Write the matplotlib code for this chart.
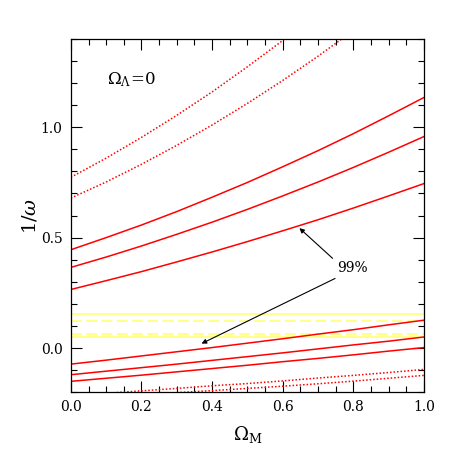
import matplotlib
matplotlib.use("Agg")
import matplotlib.pyplot as plt
from matplotlib.ticker import MultipleLocator

# ---- data ----
x_full = [0.0, 0.1, 0.2, 0.3, 0.4, 0.5, 0.6, 0.7, 0.8, 0.9, 1.0]

solid_1 = [0.445, 0.500, 0.557, 0.618, 0.683, 0.750, 0.821, 0.894, 0.971, 1.052, 1.135]
solid_2 = [0.365, 0.412, 0.462, 0.515, 0.570, 0.628, 0.689, 0.752, 0.818, 0.887, 0.958]
solid_3 = [0.265, 0.305, 0.346, 0.390, 0.435, 0.482, 0.531, 0.581, 0.634, 0.689, 0.745]
solid_4 = [-0.073, -0.055, -0.036, -0.017, 0.002, 0.022, 0.042, 0.063, 0.083, 0.105, 0.126]
solid_5 = [-0.121, -0.105, -0.089, -0.073, -0.056, -0.039, -0.022, -0.004, 0.014, 0.031, 0.050]
solid_6 = [-0.151, -0.137, -0.123, -0.108, -0.093, -0.078, -0.062, -0.047, -0.031, -0.014, 0.002]

x_dotA = [0.0, 0.1, 0.2, 0.3, 0.4, 0.5, 0.6, 0.7]
dot_A = [0.773, 0.860, 0.954, 1.054, 1.160, 1.274, 1.393, 1.519]
x_dotB = [0.0, 0.1, 0.2, 0.3, 0.4, 0.5, 0.6, 0.7, 0.8]
dot_B = [0.679, 0.752, 0.832, 0.918, 1.010, 1.108, 1.212, 1.322, 1.438]
x_dotC = [0.1, 0.2, 0.3, 0.4, 0.5, 0.6, 0.7, 0.8, 0.9, 1.0]
dot_C = [-0.205, -0.194, -0.183, -0.171, -0.161, -0.149, -0.136, -0.124, -0.111, -0.097]
x_dotD = [0.3, 0.4, 0.5, 0.6, 0.7, 0.8, 0.9, 1.0]
dot_D = [-0.202, -0.193, -0.183, -0.173, -0.162, -0.150, -0.137, -0.124]

yellow_solid = [0.152, 0.050]
yellow_dashed = [0.121, 0.065]

label_text = "99%"
label_pos = (0.796, 0.362)
arrow_up = ((0.741, 0.406), (0.647, 0.543))
arrow_down = ((0.748, 0.315), (0.370, 0.020))

# ---- figure ----
plt.rcParams['font.family'] = ['DejaVu Serif']
plt.rcParams['mathtext.fontset'] = 'dejavuserif'
fig = plt.figure(figsize=(4.63, 4.63), dpi=100)
ax = fig.add_axes([0.153, 0.153, 0.763, 0.763])

RED = '#ff0000'
YEL = '#ffff66'

for yv in yellow_solid:
    ax.axhline(yv, color=YEL, lw=1.1)
for yv in yellow_dashed:
    ax.axhline(yv, color=YEL, lw=1.1, dashes=(7, 3))

for ys in [solid_1, solid_2, solid_3, solid_4, solid_5, solid_6]:
    ax.plot(x_full, ys, color=RED, lw=1.1)

for xs, ys in [(x_dotA, dot_A), (x_dotB, dot_B), (x_dotC, dot_C), (x_dotD, dot_D)]:
    ax.plot(xs, ys, color=RED, lw=1.1, dashes=(1, 1.3))

ax.text(*label_pos, label_text, ha='center', va='center', fontsize=10)
for (tail, head) in [arrow_up, arrow_down]:
    ax.annotate('', xy=head, xytext=tail,
                arrowprops=dict(arrowstyle='-|>', color='black', lw=0.8,
                                mutation_scale=7, shrinkA=0, shrinkB=0))

ax.text(0.102, 1.217, r'$\Omega_\Lambda\!=\!0$', ha='left', va='center', fontsize=12)

ax.set_xlim(0, 1)
ax.set_ylim(-0.2, 1.4)
ax.xaxis.set_major_locator(MultipleLocator(0.2))
ax.xaxis.set_minor_locator(MultipleLocator(0.05))
ax.yaxis.set_major_locator(MultipleLocator(0.5))
ax.yaxis.set_minor_locator(MultipleLocator(0.1))
ax.tick_params(which='both', direction='in', top=True, right=True, labelsize=10, pad=6)
ax.tick_params(which='major', length=8, width=0.8)
ax.tick_params(which='minor', length=4.5, width=0.8)
ax.xaxis.set_major_formatter(plt.FormatStrFormatter('%.1f'))
ax.yaxis.set_major_formatter(plt.FormatStrFormatter('%.1f'))
for s in ax.spines.values():
    s.set_linewidth(0.9)

ax.set_xlabel(r'$\Omega_{\rm M}$', fontsize=13, labelpad=7)
ax.set_ylabel(r'$1/\omega$', fontsize=14, labelpad=1)

fig.savefig('out.png', dpi=100)
